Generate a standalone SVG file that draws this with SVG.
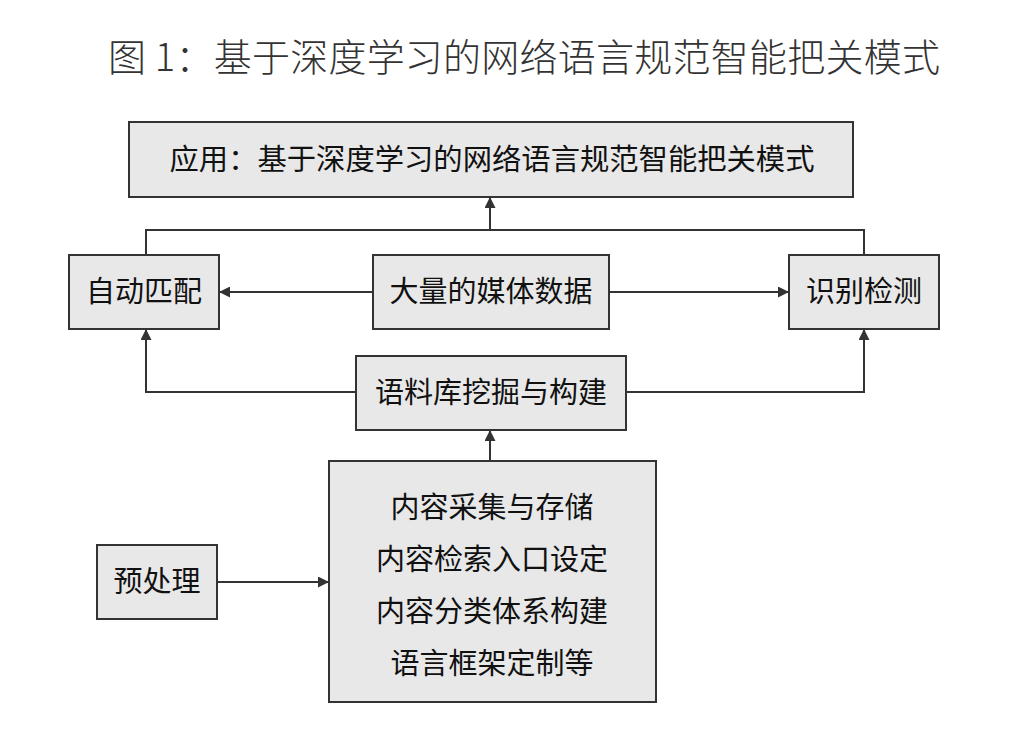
<svg xmlns="http://www.w3.org/2000/svg" width="1013" height="729" viewBox="0 0 1013 729">
<defs>
<marker id="ah" viewBox="0 0 10 10" refX="10" refY="5" markerWidth="11" markerHeight="11" markerUnits="userSpaceOnUse" orient="auto"><path d="M0,0 L10,5 L0,10 z" fill="#333"/></marker>
<style>
.box{fill:#e8e8e8;stroke:#333;stroke-width:2}
.t{font-family:"Noto Sans CJK SC","Noto Sans",sans-serif;font-size:29px;fill:#111;text-anchor:middle}
.c{fill:none;stroke:#333;stroke-width:2}
.title{font-family:"Noto Sans CJK SC",sans-serif;font-weight:300;font-size:38px;fill:#333}
</style>
</defs>
<rect width="1013" height="729" fill="#fff"/>
<text class="title" x="108" y="71" textLength="832" lengthAdjust="spacing">图 1：基于深度学习的网络语言规范智能把关模式</text>
<g id="connectors">
<path class="c" d="M146,255 V230 H864 V255"/>
<path class="c" d="M490,230 V197" marker-end="url(#ah)"/>
<path class="c" d="M373,292 H219" marker-end="url(#ah)"/>
<path class="c" d="M609,292 H789" marker-end="url(#ah)"/>
<path class="c" d="M356,392 H146 V329" marker-end="url(#ah)"/>
<path class="c" d="M626,392 H864 V329" marker-end="url(#ah)"/>
<path class="c" d="M490,461 V430" marker-end="url(#ah)"/>
<path class="c" d="M217,582 H329" marker-end="url(#ah)"/>
</g>
<g id="app"><rect class="box" x="129" y="122" width="724" height="75"/><text class="t" x="492" y="170" textLength="645" lengthAdjust="spacingAndGlyphs">应用：基于深度学习的网络语言规范智能把关模式</text></g>
<g id="auto"><rect class="box" x="69" y="255" width="150" height="74"/><text class="t" x="144" y="302">自动匹配</text></g>
<g id="media"><rect class="box" x="373" y="255" width="236" height="74"/><text class="t" x="491" y="302">大量的媒体数据</text></g>
<g id="detect"><rect class="box" x="789" y="255" width="150" height="74"/><text class="t" x="864" y="302">识别检测</text></g>
<g id="corpus"><rect class="box" x="356" y="356" width="270" height="74"/><text class="t" x="491" y="403">语料库挖掘与构建</text></g>
<g id="content"><rect class="box" x="329" y="461" width="327" height="241"/>
<text class="t" x="492" y="518">内容采集与存储</text>
<text class="t" x="492" y="570">内容检索入口设定</text>
<text class="t" x="492" y="622">内容分类体系构建</text>
<text class="t" x="492" y="674">语言框架定制等</text></g>
<g id="pre"><rect class="box" x="97" y="545" width="120" height="74"/><text class="t" x="157" y="592">预处理</text></g>
</svg>
